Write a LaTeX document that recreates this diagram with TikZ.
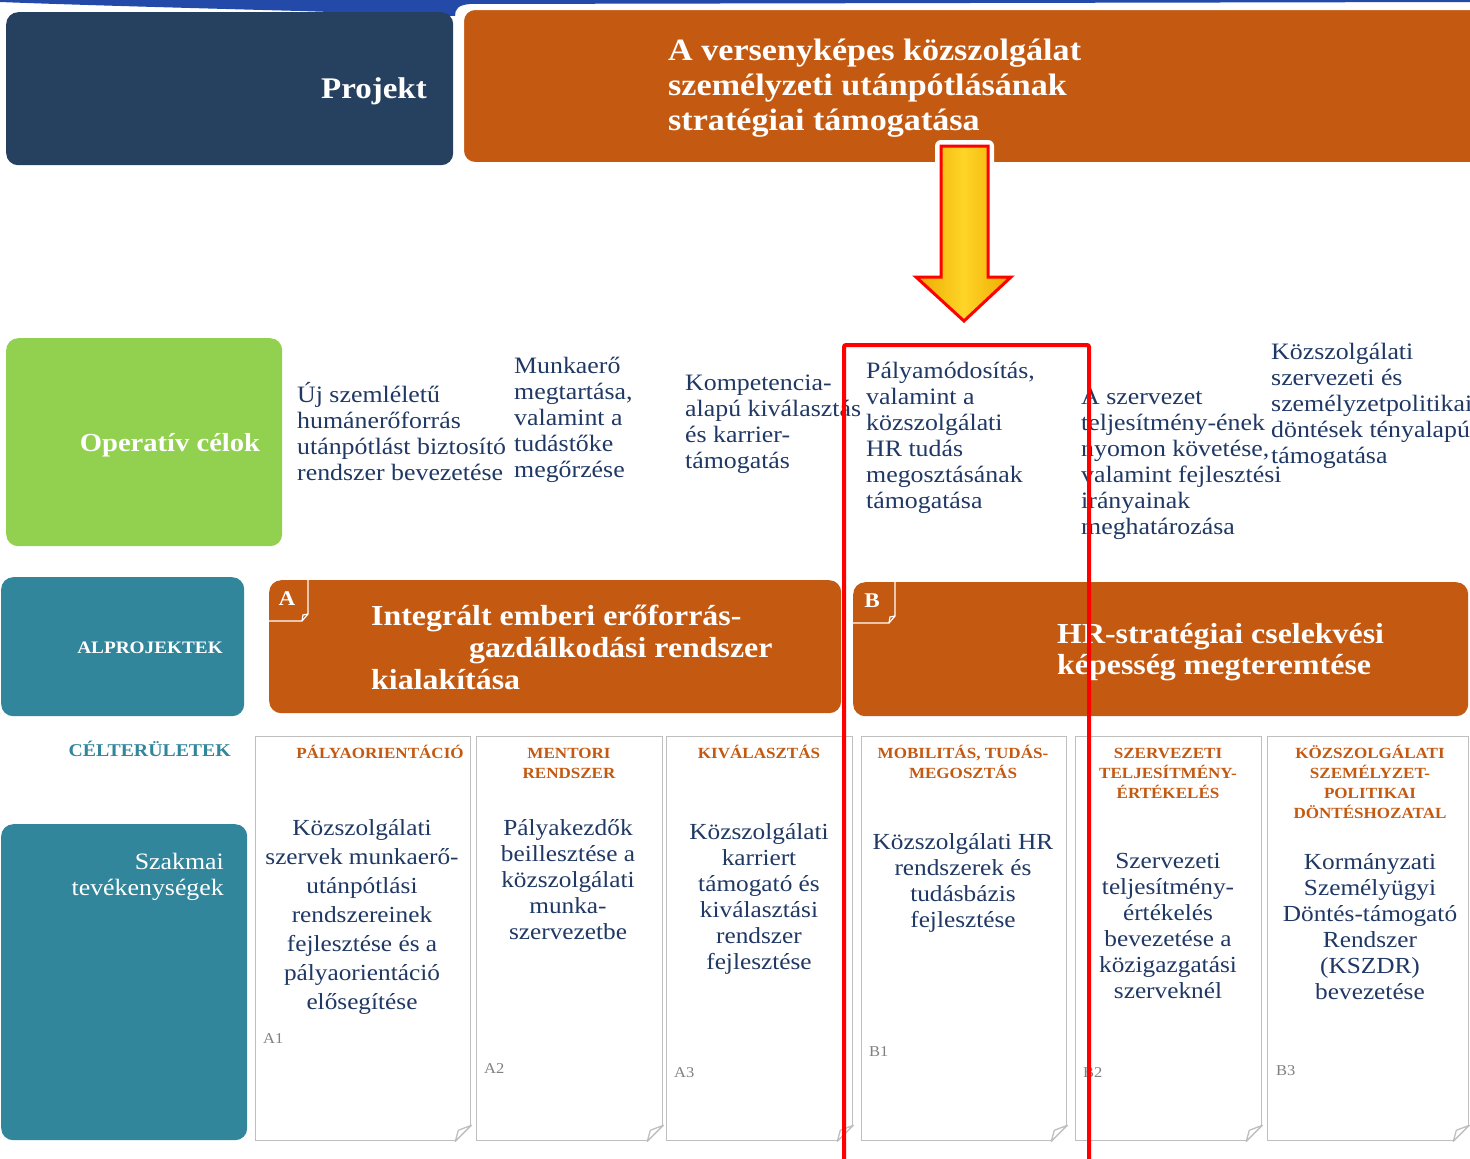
\documentclass[tikz,border=0pt]{standalone}
\usepackage{fontspec}
\setmainfont{Liberation Serif}[FakeStretch=1.1]
\usetikzlibrary{positioning}
\definecolor{colorBand}{RGB}{35,74,168}
\definecolor{colorProject}{RGB}{38,64,96}
\definecolor{colorOrange}{RGB}{196,89,17}
\definecolor{colorGoal}{RGB}{146,208,80}
\definecolor{colorSub}{RGB}{49,134,155}
\definecolor{colorText}{RGB}{31,56,100}
\definecolor{colorCard}{RGB}{191,191,191}
\definecolor{colorArrowLight}{RGB}{255,212,40}
\definecolor{colorArrowDark}{RGB}{236,170,0}
\tikzset{
  box/.style={rounded corners=12, anchor=north west, minimum width=#1},
  whead/.style={text=white, font=\bfseries\fontsize{30}{35}\selectfont},
  goaltxt/.style={text=colorText, font=\fontsize{23.5}{26}\selectfont, align=left, anchor=base west},
  card/.style={draw=colorCard, line width=1.3, fill=white, anchor=north west, minimum height=404, minimum width=#1},
  cardhead/.style={text=colorOrange, font=\bfseries\fontsize{15.5}{20}\selectfont, align=center, anchor=base},
  cardbody/.style={text=colorText, font=\fontsize{23}{26}\selectfont, align=center, anchor=base},
  cardtag/.style={text=gray, font=\fontsize{15}{16}\selectfont, anchor=base west},
  tagline/.style={draw=white, line width=1.2}
}
\newcommand{\fold}[1]{%
  \fill[white] ([xshift=1pt,yshift=17pt]#1.south east) -- ([xshift=1pt,yshift=-1pt]#1.south east) -- ([xshift=-17pt,yshift=-1pt]#1.south east) -- cycle;
  \draw[colorCard, line width=1.3, line join=round] ([yshift=16pt]#1.south east) -- ([xshift=-16pt]#1.south east) -- ([xshift=-13pt,yshift=11pt]#1.south east) -- cycle;}
\begin{document}
\begin{tikzpicture}[x=1pt, y=-1pt, every node/.style={inner sep=0}]
\useasboundingbox (0,0) rectangle (1470,1159);
\fill[colorBand] (0,0) -- (1470,0) -- (1470,2) -- (470,4) .. controls (458,5) and (455,9) .. (455,16) -- (300,11) .. controls (150,7) and (50,4) .. (0,2) -- cycle;
\node[box=447, fill=colorProject, minimum height=153] (proj) at (6,12) {};
\node[box=1030, fill=colorOrange, draw=white, line width=2, minimum height=154] (main) at (462,8) {};
\node[whead, anchor=base east] (projtxt) at (427,98) {Projekt};
\node[whead, font=\bfseries\fontsize{31}{35}\selectfont, anchor=base west, align=left] (maintxt) at (668,130) {A versenyképes közszolgálat\\személyzeti utánpótlásának\\stratégiai támogatása};
\draw[white, line width=12, line join=round] (941,146) -- (988,146) -- (988,277) -- (1011,277) -- (964,321) -- (916,277) -- (941,277) -- cycle;
\draw[red, line width=3, left color=colorArrowDark, right color=colorArrowDark, middle color=colorArrowLight] (941,146) -- (988,146) -- (988,277) -- (1011,277) -- (964,321) -- (916,277) -- (941,277) -- cycle;

\node[box=276, fill=colorGoal, minimum height=208] (goal) at (6,338) {};
\node[whead, font=\bfseries\fontsize{26}{30}\selectfont, anchor=base] (goaltitle) at (170,451) {Operatív célok};
\node[goaltxt] (op1) at (297,480) {Új szemléletű\\humánerőforrás\\utánpótlást biztosító\\rendszer bevezetése};
\node[goaltxt] (op2) at (514,477) {Munkaerő\\megtartása,\\valamint a\\tudástőke\\megőrzése};
\node[goaltxt] (op3) at (685,468) {Kompetencia-\\alapú kiválasztás\\és karrier-\\támogatás};
\node[goaltxt] (op4) at (866,508) {Pályamódosítás,\\valamint a\\közszolgálati\\HR tudás\\megosztásának\\támogatása};
\node[goaltxt] (op5) at (1081,534) {A szervezet\\teljesítmény-ének\\nyomon követése,\\valamint fejlesztési\\irányainak\\meghatározása};
\node[goaltxt] (op6) at (1271,463) {Közszolgálati\\szervezeti és\\személyzetpolitikai\\döntések tényalapú\\támogatása};

\node[box=243, fill=colorSub, minimum height=139] (alp) at (1,577) {};
\node[whead, font=\bfseries\fontsize{17.5}{20}\selectfont, anchor=base] (alptxt) at (150,653) {ALPROJEKTEK};
\node[box=572, fill=colorOrange, minimum height=133] (subA) at (269,580) {};
\node[box=615, fill=colorOrange, minimum height=134] (subB) at (853,582) {};
\draw[tagline] (308,580) -- (308,614) -- (302,621) -- (269,621);
\draw[tagline] (308,614) -- (303,615) -- (302,621);
\draw[tagline] (895,582) -- (895,616) -- (889,623) -- (853,623);
\draw[tagline] (895,616) -- (890,617) -- (889,623);
\node[whead, font=\bfseries\fontsize{21}{24}\selectfont, anchor=base] (tagA) at (287,605) {A};
\node[whead, font=\bfseries\fontsize{21}{24}\selectfont, anchor=base] (tagB) at (872,607) {B};
\node[whead, font=\bfseries\fontsize{29}{32}\selectfont, anchor=base west, align=left] (subAtxt) at (371,689) {Integrált emberi erőforrás-\\\hspace*{98pt}gazdálkodási rendszer\\kialakítása};
\node[whead, font=\bfseries\fontsize{29}{31}\selectfont, anchor=base west, align=left] (subBtxt) at (1057,674) {HR-stratégiai cselekvési\\képesség megteremtése};

\node[text=colorSub, font=\bfseries\fontsize{18}{20}\selectfont, anchor=base east] (cel) at (231,756) {CÉLTERÜLETEK};
\node[box=246, fill=colorSub, minimum height=316] (szak) at (1,824) {};
\node[text=white, font=\fontsize{23.5}{26}\selectfont, align=right, anchor=base east] (szaktxt) at (224,895) {Szakmai\\tevékenységek};

\node[card=215] (c1) at (255,736) {};
\node[card=186] (c2) at (476,736) {};
\node[card=186] (c3) at (666,736) {};
\node[card=205] (c4) at (861,736) {};
\node[card=186] (c5) at (1075,736) {};
\node[card=201] (c6) at (1267,736) {};
\fold{c1} \fold{c2} \fold{c3} \fold{c4} \fold{c5} \fold{c6}
\node[cardhead] (h1) at (380,758) {PÁLYAORIENTÁCIÓ};
\node[cardhead] (h2) at (569,778) {MENTORI\\RENDSZER};
\node[cardhead] (h3) at (759,758) {KIVÁLASZTÁS};
\node[cardhead] (h4) at (963,778) {MOBILITÁS, TUDÁS-\\MEGOSZTÁS};
\node[cardhead] (h5) at (1168,798) {SZERVEZETI\\TELJESÍTMÉNY-\\ÉRTÉKELÉS};
\node[cardhead] (h6) at (1370,818) {KÖZSZOLGÁLATI\\SZEMÉLYZET-\\POLITIKAI\\DÖNTÉSHOZATAL};
\node[cardbody, font=\fontsize{23}{29}\selectfont] (b1) at (362,1009) {Közszolgálati\\szervek munkaerő-\\utánpótlási\\rendszereinek\\fejlesztése és a\\pályaorientáció\\elősegítése};
\node[cardbody] (b2) at (568,939) {Pályakezdők\\beillesztése a\\közszolgálati\\munka-\\szervezetbe};
\node[cardbody] (b3) at (759,969) {Közszolgálati\\karriert\\támogató és\\kiválasztási\\rendszer\\fejlesztése};
\node[cardbody] (b4) at (963,927) {Közszolgálati HR\\rendszerek és\\tudásbázis\\fejlesztése};
\node[cardbody] (b5) at (1168,998) {Szervezeti\\teljesítmény-\\értékelés\\bevezetése a\\közigazgatási\\szerveknél};
\node[cardbody] (b6) at (1370,999) {Kormányzati\\Személyügyi\\Döntés-támogató\\Rendszer\\(KSZDR)\\bevezetése};
\node[cardtag] (t1) at (263,1043) {A1};
\node[cardtag] (t2) at (484,1073) {A2};
\node[cardtag] (t3) at (674,1077) {A3};
\node[cardtag] (t4) at (869,1056) {B1};
\node[cardtag] (t5) at (1083,1077) {B2};
\node[cardtag] (t6) at (1276,1075) {B3};

\draw[red, line width=4, rounded corners=2] (844,1170) -- (844,345) -- (1089,345) -- (1089,1170);
\end{tikzpicture}
\end{document}
